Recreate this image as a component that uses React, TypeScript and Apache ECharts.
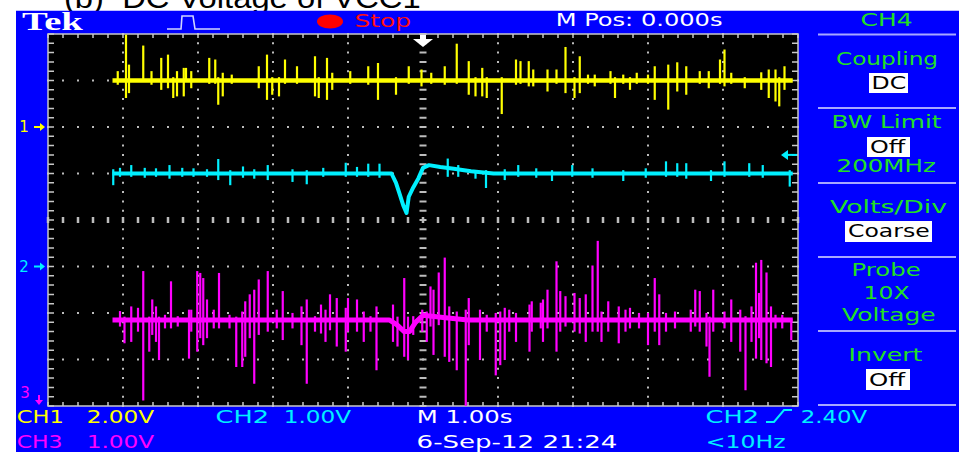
import React, { useEffect, useRef } from "react";
import * as echarts from "echarts";

// Timebase 1.00 s/div, horizontal position 0.000 s: ten divisions from -5 s to +5 s.
const SEC_PER_DIV = 1.0;
const H_POSITION = 0.0;
const TIME_RANGE = [-5, 5];
// Vertical graticule, in divisions.
const DIV_RANGE = [-4, 4];

// Channel setups: volts/div, ground reference (div), DC level of the trace (V).
const CH1_SETUP = { voltsPerDiv: 2.0, groundDiv: 2.0, level: 2.0 };
const CH2_SETUP = { voltsPerDiv: 1.0, groundDiv: -1.0, level: 2.0 };
const CH3_SETUP = { voltsPerDiv: 1.0, groundDiv: -4.35, level: 2.2 };

// Trigger: CH2, rising edge.
const TRIGGER_LEVEL = 2.4;
const TRIGGER_FREQ = "<10Hz";
const CAPTURE_DATE = "6-Sep-12 21:24";

// Slow part of each trace: [time s, deviation from level V]
const ch1Trace = [[-4.14, 0], [4.93, 0]];
const ch2Trace = [
  [-4.14, 0], [-0.42, 0], [-0.36, -0.2], [-0.31, -0.45], [-0.26, -0.7], [-0.22, -0.85],
  [-0.19, -0.5], [-0.13, -0.3], [-0.06, -0.1], [0.0, 0.12], [0.08, 0.18], [0.23, 0.14],
  [0.41, 0.1], [0.64, 0.05], [0.94, 0], [4.93, 0],
];
const ch3Trace = [
  [-4.14, 0], [-0.45, 0], [-0.35, -0.1], [-0.25, -0.25], [-0.18, -0.25], [-0.1, -0.05],
  [0.0, 0.1], [0.3, 0.05], [0.6, 0], [4.93, 0],
];

// Noise spikes: [time s, peak above level V, peak below level V]
const ch1Spikes = [
  [-4.07, 0.36, -0.14], [-3.96, 1.93, -0.71], [-3.92, 0.64, -0.5], [-3.73, 1.46, 0], [-3.62, 0.36, -0.14],
  [-3.49, 0.93, -0.36], [-3.4, 1.07, -0.29], [-3.33, 0.1, -0.71], [-3.28, 0.36, -0.64], [-3.19, 0.5, -0.64],
  [-3.16, 0.5, 0], [-3.09, 0.36, -0.29], [-2.85, 0.93, -0.1], [-2.77, 0.86, -0.1], [-2.73, 0.1, -1.0],
  [-2.67, 0.29, -0.64], [-2.55, 0.21, -0.1], [-2.19, 0.57, -0.29], [-2.08, 1.07, -0.79], [-2.01, 0.1, -0.57],
  [-1.92, 0.1, -0.64], [-1.84, 0.86, -0.1], [-1.68, 0.57, -0.1], [-1.44, 1.0, -0.64], [-1.39, 0.1, -0.71],
  [-1.28, 0.93, -0.79], [-1.21, 0.29, -0.36], [-0.97, 0.36, -0.1], [-0.73, 0.57, -0.14], [-0.6, 0.71, -0.79],
  [-0.36, 0.1, -0.57], [-0.19, 0.57, -0.1], [-0.02, 0.43, -0.21], [0.11, 0.29, -0.1], [0.29, 0.57, -0.14],
  [0.45, 1.54, -0.1], [0.61, 0.79, -0.57], [0.7, 0.1, -0.64], [0.79, 0.5, -0.64], [0.85, 0.1, -0.71],
  [1.05, 0.1, -1.4], [1.24, 0.86, -0.14], [1.3, 0.79, -0.1], [1.41, 0.79, -0.21], [1.47, 0.43, -0.21],
  [1.66, 0.43, -0.43], [1.78, 0.43, -0.1], [1.9, 1.4, -0.5], [2.02, 0.1, -0.71], [2.09, 1.0, -0.5],
  [2.2, 0.21, -0.1], [2.29, 0.21, -0.21], [2.5, 0.36, -0.1], [2.56, 0.1, -0.71], [2.67, 0.21, -0.1],
  [2.76, 0.1, -0.36], [2.85, 0.29, -0.1], [3.0, 0.21, -0.1], [3.09, 0.57, -0.79], [3.27, 0.64, -1.21],
  [3.39, 0.74, -0.43], [3.51, 0.57, -0.57], [3.69, 0.36, -0.1], [3.81, 0.36, -0.29], [3.96, 0.86, -0.1],
  [4.02, 1.29, -0.21], [4.11, 0.29, -0.1], [4.29, 0.1, -0.29], [4.51, 0.31, -0.36], [4.61, 0.43, -0.71],
  [4.7, 0.43, -0.86], [4.75, 0.1, -1.07], [4.82, 0.57, -0.36],
];
const ch2Spikes = [
  [-4.13, 0.07, -0.23], [-4.04, 0.1, -0.05], [-3.89, 0.16, -0.05], [-3.71, 0.1, -0.07], [-3.56, 0.09, -0.05],
  [-3.38, 0.16, -0.09], [-3.21, 0.1, -0.05], [-3.06, 0.09, -0.05], [-2.88, 0.07, -0.05], [-2.73, 0.29, -0.12],
  [-2.57, 0.05, -0.23], [-2.4, 0.13, -0.07], [-2.25, 0.07, -0.09], [-2.07, 0.16, -0.12], [-1.74, 0.07, -0.16],
  [-1.55, 0.05, -0.21], [-1.33, 0.1, -0.05], [-1.03, 0.21, -0.05], [-0.88, 0.12, -0.05], [-0.73, 0.19, -0.05],
  [-0.58, 0.19, -0.07], [0.33, 0.3, -0.05], [0.47, 0.16, -0.05], [0.7, 0.05, -0.09], [0.84, 0.05, -0.29],
  [1.09, 0.07, -0.12], [1.27, 0.16, -0.05], [1.51, 0.09, -0.07], [1.72, 0.05, -0.14], [1.99, 0.16, -0.05],
  [2.26, 0.09, -0.07], [2.67, 0.05, -0.14], [2.97, 0.09, -0.07], [3.24, 0.24, -0.05], [3.39, 0.2, -0.05],
  [3.51, 0.2, -0.09], [3.84, 0.05, -0.14], [4.02, 0.24, -0.05], [4.35, 0.2, -0.05], [4.53, 0.16, -0.07],
  [4.89, 0.05, -0.26],
];
const ch3Spikes = [
  [-4.04, 0.17, -0.12], [-3.98, 0.05, -0.48], [-3.89, 0.27, -0.45], [-3.8, 0.24, -0.23], [-3.73, 1.03, -1.71],
  [-3.65, 0.05, -0.66], [-3.61, 0.42, -0.3], [-3.56, 0.27, -0.45], [-3.52, 0.05, -0.84], [-3.44, 0.09, -0.16],
  [-3.36, 0.81, -0.16], [-3.27, 0.06, -0.12], [-3.12, 0.2, -0.81], [-3.09, 0.2, -0.23], [-3.01, 1.03, -0.66],
  [-2.97, 0.99, -0.37], [-2.93, 0.88, -0.52], [-2.88, 0.42, -0.37], [-2.79, 0.2, -0.16], [-2.72, 0.99, -0.16],
  [-2.58, 0.09, -0.16], [-2.49, 0.05, -0.99], [-2.41, 0.16, -0.99], [-2.37, 0.38, -0.77], [-2.31, 0.53, -0.37],
  [-2.25, 0.63, -1.35], [-2.19, 0.85, -0.3], [-2.07, 1.03, -0.23], [-1.95, 0.2, -0.16], [-1.87, 0.6, -0.41],
  [-1.74, 0.13, -0.16], [-1.62, 0.27, -0.52], [-1.55, 0.42, -1.35], [-1.44, 0.06, -0.23], [-1.36, 0.31, -0.27],
  [-1.3, 0.2, -0.45], [-1.24, 0.53, -0.2], [-1.15, 0.45, -0.55], [-1.03, 0.24, -0.66], [-1.0, 0.45, -0.23],
  [-0.88, 0.42, -0.23], [-0.79, 0.16, -0.45], [-0.7, 0.06, -0.23], [-0.62, 0.27, -1.06], [-0.4, 0.31, -0.45],
  [-0.34, 0.05, -0.55], [-0.25, 0.88, -0.77], [-0.2, 0.05, -0.84], [-0.13, 0.06, -0.3], [-0.01, 0.2, -0.23],
  [0.05, 0.16, -0.45], [0.1, 0.7, -0.12], [0.14, 0.63, -0.73], [0.21, 1.0, -0.09], [0.29, 1.32, -0.77],
  [0.35, 0.27, -0.88], [0.45, 0.16, -1.06], [0.57, 0.2, -1.85], [0.61, 0.45, -0.52], [0.76, 0.2, -0.84],
  [0.85, 0.09, -0.23], [0.97, 0.13, -1.17], [1.03, 0.16, -0.95], [1.09, 0.24, -0.84], [1.15, 0.2, -0.23],
  [1.24, 0.13, -0.45], [1.42, 0.31, -0.66], [1.45, 0.38, -0.23], [1.57, 0.35, -0.16], [1.6, 0.42, -0.45],
  [1.66, 0.63, -0.16], [1.78, 1.24, -0.66], [1.83, 0.6, -0.23], [1.9, 0.49, -0.12], [2.02, 0.56, -0.23],
  [2.09, 0.45, -0.27], [2.17, 0.53, -0.45], [2.26, 1.15, -0.23], [2.33, 1.68, -0.23], [2.38, 0.16, -0.45],
  [2.47, 0.38, -0.23], [2.61, 0.27, -0.48], [2.7, 0.2, -0.23], [2.76, 0.24, -0.16], [2.88, 0.13, -0.16],
  [3.0, 0.13, -0.52], [3.09, 0.88, -0.23], [3.15, 0.53, -0.52], [3.24, 0.13, -0.23], [3.36, 0.16, -0.16],
  [3.57, 0.2, -0.23], [3.63, 0.63, -0.12], [3.69, 0.6, -0.23], [3.78, 0.13, -0.55], [3.82, 0.05, -1.2],
  [3.87, 0.63, -0.23], [4.02, 0.16, -0.16], [4.11, 0.42, -0.45], [4.23, 0.2, -0.66], [4.3, 0.06, -1.49],
  [4.38, 0.27, -0.45], [4.44, 1.21, -0.81], [4.48, 0.56, -0.37], [4.51, 1.27, -0.84], [4.58, 1.0, -0.91],
  [4.64, 0.27, -0.99], [4.7, 0.09, -0.16], [4.79, 0.09, -0.16], [4.91, 0.0, -0.41],
];

// Colours of the instrument screen
const BLUE = "#0000ff";
const YELLOW = "#ffff00";
const CYAN = "#00f0ff";
const MAGENTA = "#ff00ff";
const GREEN = "#22e022";
const WHITE = "#ffffff";
const RULE = "#a8a8ff";
const DOT = "#bcbcbc";
const FONT = "DejaVu Sans";

type Setup = { voltsPerDiv: number; groundDiv: number; level: number };

const toDiv = (s: Setup, v: number) => s.groundDiv + (s.level + v) / s.voltsPerDiv;
const volts = (v: number) => `${v.toFixed(2)}V`;

let measureCanvas: HTMLCanvasElement | null = null;
function inkExtent(text: string, font: string) {
  if (!measureCanvas) measureCanvas = document.createElement("canvas");
  const ctx = measureCanvas.getContext("2d")!;
  ctx.font = font;
  const m = ctx.measureText(text);
  return { left: m.actualBoundingBoxLeft, right: m.actualBoundingBoxRight };
}

// A text whose ink spans x1..x2, vertically centred on cy.
function fitText(
  text: string, x1: number, x2: number, cy: number, size: number, fill: string,
  family = FONT, weight = "normal", z = 10,
) {
  const font = `${weight} ${size}px "${family}"`;
  const { left, right } = inkExtent(text, font);
  return {
    type: "text",
    x: x1,
    y: cy,
    scaleX: (x2 - x1) / (left + right),
    z,
    silent: true,
    style: {
      text, x: left, y: 0, fill,
      fontSize: size, fontFamily: family, fontWeight: weight,
      textAlign: "left", textVerticalAlign: "middle", align: "left", verticalAlign: "middle",
    },
  };
}

function boxedText(text: string, bx1: number, bx2: number, by1: number, by2: number, tx1: number, tx2: number) {
  return [
    { type: "rect", z: 10, silent: true, shape: { x: bx1, y: by1, width: bx2 - bx1, height: by2 - by1 }, style: { fill: WHITE } },
    fitText(text, tx1, tx2, (by1 + by2) / 2, 17, "#000000", FONT, "normal", 11),
  ];
}

function line(x1: number, y1: number, x2: number, y2: number, stroke: string, lineWidth: number, z = 10) {
  return { type: "line", z, silent: true, shape: { x1, y1, x2, y2 }, style: { stroke, lineWidth } };
}

function buildGraphics() {
  const g: any[] = [];
  // caption above the screen
  g.push(fitText("(b)  DC Voltage of VCC1", 65, 420, -2, 30, "#000000", "Liberation Sans", "normal", -20));
  // instrument frame
  g.push({ type: "rect", z: -10, silent: true, shape: { x: 16, y: 10.7, width: 943, height: 442 }, style: { fill: BLUE } });

  // status bar
  g.push(fitText("Tek", 22, 83, 21.5, 25, WHITE, "Liberation Serif", "bold"));
  g.push({
    type: "polyline", z: 10, silent: true,
    shape: { points: [[167, 29], [181, 29], [182, 16], [193, 16], [195, 29], [220, 29]] },
    style: { stroke: "#d0d4ff", lineWidth: 1.6, fill: null },
  });
  g.push({ type: "ellipse", z: 10, silent: true, shape: { cx: 330, cy: 21.5, rx: 13, ry: 7 }, style: { fill: "#ff0000" } });
  g.push(fitText("Stop", 356, 410, 21, 17, "#ff1010"));
  g.push(fitText(`M Pos: ${H_POSITION.toFixed(3)}s`, 557, 722, 20, 18, WHITE));
  g.push(fitText("CH4", 862, 912, 20, 18, GREEN));

  // side menu
  [34.5, 108, 183, 257, 331, 405].forEach((y) => g.push(line(818, y, 956, y, RULE, 2)));
  g.push(fitText("Coupling", 836, 937, 59, 17, GREEN));
  g.push(...boxedText("DC", 869, 908, 73, 93, 873, 905));
  g.push(fitText("BW Limit", 833, 942, 122.5, 17, GREEN));
  g.push(...boxedText("Off", 867, 910, 137, 157, 870, 907));
  g.push(fitText("200MHz", 838, 936, 166, 17, GREEN));
  g.push(fitText("Volts/Div", 830, 947, 206.5, 17, GREEN));
  g.push(...boxedText("Coarse", 845, 932, 221, 242, 848, 929));
  g.push(fitText("Probe", 853, 920, 270.5, 17, GREEN));
  g.push(fitText("10X", 865, 910, 293, 17, GREEN));
  g.push(fitText("Voltage", 842, 935, 315, 17, GREEN));
  g.push(fitText("Invert", 850, 923, 355.5, 17, GREEN));
  g.push(...boxedText("Off", 866, 910, 369, 390, 869, 907));

  // readouts below the graticule
  const r1 = 416.5, r2 = 441.5;
  g.push(fitText("CH1", 18, 62, r1, 18, YELLOW));
  g.push(fitText(volts(CH1_SETUP.voltsPerDiv), 88, 155, r1, 18, YELLOW));
  g.push(fitText("CH2", 217, 267, r1, 18, CYAN));
  g.push(fitText(volts(CH2_SETUP.voltsPerDiv), 285, 352, r1, 18, CYAN));
  g.push(fitText(`M ${SEC_PER_DIV.toFixed(2)}s`, 418, 512, r1, 18, WHITE));
  g.push(fitText("CH2", 707, 757, r1, 18, CYAN));
  g.push({
    type: "polyline", z: 10, silent: true,
    shape: { points: [[766, 422], [774, 422], [784, 410], [792, 410]] },
    style: { stroke: CYAN, lineWidth: 2, fill: null },
  });
  g.push(fitText(volts(TRIGGER_LEVEL), 802, 868, r1, 18, CYAN));
  g.push(fitText("CH3", 18, 62, r2, 18, MAGENTA));
  g.push(fitText(volts(CH3_SETUP.voltsPerDiv), 88, 155, r2, 18, MAGENTA));
  g.push(fitText(CAPTURE_DATE, 418, 617, r2, 18, WHITE));
  g.push(fitText(TRIGGER_FREQ, 707, 785, r2, 18, CYAN));
  return g;
}

// Graticule: black screen, dotted division lines, tick-marked centre cross and border.
function renderGraticule(_params: any, api: any) {
  const [x0, y0] = api.coord([TIME_RANGE[0], DIV_RANGE[1]]);
  const [x1, y1] = api.coord([TIME_RANGE[1], DIV_RANGE[0]]);
  const nx = TIME_RANGE[1] - TIME_RANGE[0];
  const ny = DIV_RANGE[1] - DIV_RANGE[0];
  const dx = (x1 - x0) / nx;
  const dy = (y1 - y0) / ny;
  const mx = dx / 5;
  const my = dy / 5;
  const c: any[] = [];
  c.push({ type: "rect", shape: { x: x0, y: y0, width: x1 - x0, height: y1 - y0 }, style: { fill: "#000000" } });
  const dash = (xa: number, ya: number, xb: number, yb: number, w: number, on: number, step: number, color = DOT) =>
    c.push({ type: "line", shape: { x1: xa, y1: ya, x2: xb, y2: yb }, style: { stroke: color, lineWidth: w, lineDash: [on, step - on] } });
  for (let i = 1; i < nx; i++) {
    const x = x0 + i * dx;
    if (i === nx / 2) dash(x, y0 - 1, x, y1 + 1, 7, 2, my);
    else dash(x, y0 - 1, x, y1 + 1, 2, 2, my);
  }
  for (let j = 1; j < ny; j++) {
    const y = y0 + j * dy;
    if (j === ny / 2) dash(x0 - 1.25, y, x1 + 1.25, y, 6, 2.5, mx);
    else dash(x0 - 1, y, x1 + 1, y, 2, 2, mx);
  }
  // border ticks
  dash(x0 - 0.75, y0 + 2, x1 + 0.75, y0 + 2, 4, 1.5, mx, "#c8c8c8");
  dash(x0 - 0.75, y1 - 2, x1 + 0.75, y1 - 2, 4, 1.5, mx, "#c8c8c8");
  dash(x0 + 3, y0 - 0.75, x0 + 3, y1 + 0.75, 6, 1.5, my, "#c8c8c8");
  dash(x1 - 3, y0 - 0.75, x1 - 3, y1 + 0.75, 6, 1.5, my, "#c8c8c8");
  c.push({ type: "rect", shape: { x: x0, y: y0, width: x1 - x0, height: y1 - y0 }, style: { fill: null, stroke: "#c8c8c8", lineWidth: 1.5 } });
  return { type: "group", children: c };
}

// Channel ground markers, trigger level and trigger position.
function renderMarkers(_params: any, api: any) {
  const [left, top] = api.coord([TIME_RANGE[0], DIV_RANGE[1]]);
  const [right, bottom] = api.coord([TIME_RANGE[1], DIV_RANGE[0]]);
  const c: any[] = [];
  const label = (text: string, x: number, y: number, fill: string) =>
    c.push({ type: "text", style: { text, x, y, fill, fontSize: 15, fontFamily: FONT, textAlign: "center", textVerticalAlign: "middle", align: "center", verticalAlign: "middle" } });
  const ground = (text: string, s: Setup, fill: string) => {
    const div = s.groundDiv;
    if (div <= DIV_RANGE[0]) {
      label(text, left - 23, bottom - 13, fill);
      c.push({ type: "line", shape: { x1: left - 9, y1: bottom - 11, x2: left - 9, y2: bottom - 5 }, style: { stroke: fill, lineWidth: 2 } });
      c.push({ type: "polygon", shape: { points: [[left - 13, bottom - 6], [left - 5, bottom - 6], [left - 9, bottom - 1]] }, style: { fill } });
      return;
    }
    const y = api.coord([0, div])[1];
    label(text, left - 24, y, fill);
    c.push({ type: "line", shape: { x1: left - 14, y1: y, x2: left - 7, y2: y }, style: { stroke: fill, lineWidth: 2 } });
    c.push({ type: "polygon", shape: { points: [[left - 8, y - 4], [left - 3, y], [left - 8, y + 4]] }, style: { fill } });
  };
  ground("1", CH1_SETUP, YELLOW);
  ground("2", CH2_SETUP, CYAN);
  ground("3", CH3_SETUP, MAGENTA);

  const ty = api.coord([0, CH2_SETUP.groundDiv + TRIGGER_LEVEL / CH2_SETUP.voltsPerDiv])[1];
  c.push({ type: "polygon", shape: { points: [[right - 17, ty], [right - 10, ty - 5], [right - 10, ty + 5]] }, style: { fill: CYAN } });
  c.push({ type: "line", shape: { x1: right - 11, y1: ty, x2: right - 1, y2: ty }, style: { stroke: CYAN, lineWidth: 2 } });

  const tx = api.coord([H_POSITION, 0])[0];
  c.push({
    type: "polygon",
    shape: { points: [[tx - 3, top + 1], [tx + 3, top + 1], [tx + 3, top + 5], [tx + 10, top + 5], [tx, top + 13], [tx - 10, top + 5], [tx - 3, top + 5]] },
    style: { fill: WHITE },
  });
  return { type: "group", children: c };
}

function traceSeries(name: string, s: Setup, trace: number[][], spikes: number[][], color: string, width: number) {
  return [
    {
      type: "line",
      name,
      data: trace.map(([t, v]) => [t, toDiv(s, v)]),
      showSymbol: false,
      symbol: "none",
      lineStyle: { color, width, join: "round" },
      itemStyle: { color },
      silent: true,
      z: 3,
    },
    {
      type: "custom",
      name: `${name} spikes`,
      data: spikes.map(([t, hi, lo]) => [t, toDiv(s, hi), toDiv(s, lo)]),
      encode: { x: 0, y: [1, 2] },
      clip: true,
      silent: true,
      z: 4,
      renderItem: (_p: any, api: any) => {
        const a = api.coord([api.value(0), api.value(1)]);
        const b = api.coord([api.value(0), api.value(2)]);
        return {
          type: "line",
          shape: { x1: a[0], y1: a[1] - 1, x2: b[0], y2: b[1] + 1 },
          style: { stroke: color, lineWidth: 2.2 },
        };
      },
    },
  ];
}

export default function App() {
  const ref = useRef<HTMLDivElement>(null);
  useEffect(() => {
    if (!ref.current) return;
    document.body.style.margin = "0";
    const chart = echarts.init(ref.current, undefined, { renderer: "svg" });
    chart.setOption({
      animation: false,
      backgroundColor: "#ffffff",
      grid: { left: 48, top: 34, width: 750, height: 372, show: false },
      xAxis: { type: "value", min: TIME_RANGE[0], max: TIME_RANGE[1], show: false },
      yAxis: { type: "value", min: DIV_RANGE[0], max: DIV_RANGE[1], show: false },
      tooltip: { show: false },
      graphic: { elements: buildGraphics() },
      series: [
        { type: "custom", name: "graticule", data: [[0, 0]], renderItem: renderGraticule, silent: true, z: 1 },
        ...traceSeries("CH1", CH1_SETUP, ch1Trace, ch1Spikes, YELLOW, 4.5),
        ...traceSeries("CH2", CH2_SETUP, ch2Trace, ch2Spikes, CYAN, 4),
        ...traceSeries("CH3", CH3_SETUP, ch3Trace, ch3Spikes, MAGENTA, 5),
        { type: "custom", name: "markers", data: [[0, 0]], renderItem: renderMarkers, silent: true, z: 6 },
      ],
    });
    return () => chart.dispose();
  }, []);
  return (
    <div
      ref={ref}
      style={{ position: "absolute", left: 0, top: 0, width: 959, height: 452 }}
    />
  );
}
